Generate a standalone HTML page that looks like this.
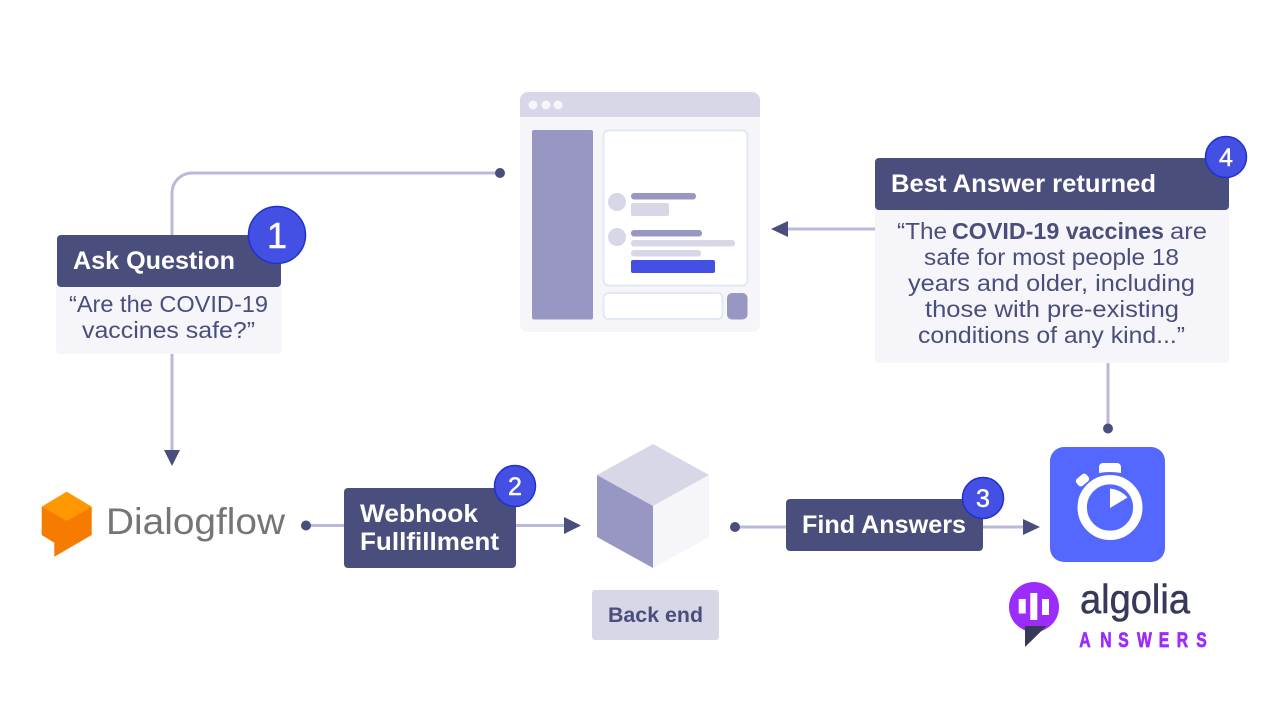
<!DOCTYPE html>
<html lang="en">
<head>
<meta charset="utf-8">
<title>Dialogflow and Algolia Answers flow</title>
<style>
html,body{margin:0;padding:0;background:#fff;width:1280px;height:720px;overflow:hidden}
svg{display:block}
text{font-family:"Liberation Sans",sans-serif}
.h{font-weight:700;fill:#fff;font-size:25px}
.q{fill:#4a4e7c;font-size:23px}
.n{fill:#fff;font-size:25px;text-anchor:middle;stroke:#fff;stroke-width:.5px}
</style>
</head>
<body>
<svg width="1280" height="720" viewBox="0 0 1280 720" xmlns="http://www.w3.org/2000/svg">
<rect width="1280" height="720" fill="#fff"/>

<!-- connectors -->
<g fill="none" stroke="#b9b9d9" stroke-width="3">
  <path d="M172 236V193a20 20 0 0 1 20-20H500"/>
  <path d="M172 354V452"/>
  <path d="M306 525.500H345"/>
  <path d="M516 525.500H566"/>
  <path d="M735 527H787"/>
  <path d="M983 527H1025"/>
  <path d="M786 229H875"/>
  <path d="M1108 363V428"/>
</g>
<g fill="#4a4e7c">
  <circle cx="500" cy="173" r="5"/>
  <circle cx="306" cy="525.500" r="5"/>
  <circle cx="735" cy="527" r="5"/>
  <circle cx="1108" cy="428.500" r="5"/>
  <path d="M164 450H180L172 466Z"/>
  <path d="M564 517L581 525.500L564 534Z"/>
  <path d="M1023 519L1040 527L1023 535Z"/>
  <path d="M788 221L771 229L788 237Z"/>
</g>

<!-- browser mock -->
<rect x="520" y="92" width="240" height="240" rx="8" fill="#f5f5fa"/>
<path d="M520 117V100a8 8 0 0 1 8-8H752a8 8 0 0 1 8 8V117Z" fill="#d8d7e7"/>
<g fill="#f5f5fa">
  <circle cx="533" cy="105" r="4.500"/>
  <circle cx="546" cy="105" r="4.500"/>
  <circle cx="558" cy="105" r="4.500"/>
</g>
<rect x="532" y="130" width="61" height="189.500" rx="2" fill="#9897c3"/>
<rect x="603.500" y="130.500" width="144" height="155" rx="5" fill="#fff" stroke="#e1e9f2" stroke-width="2"/>
<rect x="603.500" y="293" width="119" height="26" rx="5" fill="#fff" stroke="#e1e9f2" stroke-width="2"/>
<rect x="727" y="293" width="20.500" height="26.500" rx="5" fill="#9897c3"/>
<circle cx="617" cy="202" r="9" fill="#d8d7e7"/>
<circle cx="617" cy="237" r="9" fill="#d8d7e7"/>
<rect x="631" y="193" width="65" height="6.500" rx="3" fill="#9897c3"/>
<rect x="631" y="203" width="38" height="13" rx="2" fill="#d8d7e7"/>
<rect x="631" y="230" width="71" height="6.500" rx="3" fill="#9897c3"/>
<rect x="631" y="240" width="104" height="6.500" rx="3" fill="#d8d7e7"/>
<rect x="631" y="250" width="70" height="6.500" rx="3" fill="#d8d7e7"/>
<rect x="631" y="260" width="84" height="13" rx="2" fill="#4450e4"/>

<!-- ask question -->
<rect x="56" y="280" width="226" height="74" rx="4" fill="#f5f5fa"/>
<rect x="57" y="235" width="224" height="52" rx="4" fill="#4a4e7c"/>
<text class="h" x="73" y="269" textLength="162" lengthAdjust="spacingAndGlyphs">Ask Question</text>
<text class="q" x="69" y="312" textLength="199" lengthAdjust="spacingAndGlyphs">“Are the COVID-19</text>
<text class="q" x="82" y="338" textLength="173" lengthAdjust="spacingAndGlyphs">vaccines safe?”</text>
<circle cx="277" cy="235" r="28.500" fill="#4450e4" stroke="#2131cf" stroke-width="1.500"/>
<text class="n" x="277" y="248" style="font-size:36px;stroke-width:.5px">1</text>

<!-- dialogflow -->
<path d="M41.700 506.700L66.700 491.700L91.700 506.700V535L54.300 556.700V542.700L41.700 535Z" fill="#f57c00"/>
<path d="M41.700 506.700L66.700 491.700L91.700 506.700L66.700 521Z" fill="#ff9800"/>
<text x="106" y="534" fill="#757575" style="font-size:37px" textLength="179" lengthAdjust="spacingAndGlyphs">Dialogflow</text>

<!-- webhook -->
<rect x="344" y="488" width="172" height="80" rx="4" fill="#4a4e7c"/>
<text class="h" x="360" y="522" textLength="118" lengthAdjust="spacingAndGlyphs">Webhook</text>
<text class="h" x="360" y="550" textLength="139" lengthAdjust="spacingAndGlyphs">Fullfillment</text>
<circle cx="515" cy="486" r="20.500" fill="#4450e4" stroke="#2131cf" stroke-width="1.500"/>
<text class="n" x="515" y="495">2</text>

<!-- cube -->
<path d="M653 444L709 475L653 506L597 475Z" fill="#d8d7e7"/>
<path d="M597 475L653 506V568L597 537Z" fill="#9897c3"/>
<path d="M709 475L653 506V568L709 537Z" fill="#f5f5fa"/>
<rect x="592" y="590" width="127" height="50" rx="3" fill="#d8d7e7"/>
<text x="608" y="622" fill="#4a4e7c" font-weight="700" style="font-size:21px" textLength="95" lengthAdjust="spacingAndGlyphs">Back end</text>

<!-- find answers -->
<rect x="786" y="499" width="197" height="52" rx="4" fill="#4a4e7c"/>
<text class="h" x="802" y="533" textLength="164" lengthAdjust="spacingAndGlyphs">Find Answers</text>
<circle cx="983" cy="498" r="20.500" fill="#4450e4" stroke="#2131cf" stroke-width="1.500"/>
<text class="n" x="983" y="507">3</text>

<!-- algolia tile -->
<rect x="1050" y="447" width="115" height="115" rx="14" fill="#5468ff"/>
<circle cx="1110" cy="507.500" r="27.800" fill="none" stroke="#fff" stroke-width="9.400"/>
<path d="M1099 473V467a4 4 0 0 1 4-4H1117a4 4 0 0 1 4 4V473Q1110 471 1099 473Z" fill="#fff"/>
<rect x="1076" y="475.500" width="13" height="9" rx="3" fill="#fff" transform="rotate(-40 1082.500 480)"/>
<path d="M1110 488.500Q1121 490 1127.500 497.500L1110 508Z" fill="#fff"/>

<!-- algolia logo -->
<circle cx="1034" cy="607" r="25" fill="#9b2cfb"/>
<rect x="1018.700" y="599" width="7" height="14.500" fill="#fff"/>
<rect x="1030.300" y="593" width="7" height="27" fill="#fff"/>
<rect x="1042" y="599" width="7" height="16" fill="#fff"/>
<path d="M1025 626H1046.500L1025 647Z" fill="#36395a"/>
<text x="1080" y="613" fill="#36395a" stroke="#36395a" stroke-width=".5" style="font-size:41px" textLength="110" lengthAdjust="spacingAndGlyphs">algolia</text>
<g transform="scale(.75,1)"><text x="1439 1467 1491 1516 1545 1569 1595" y="647" fill="#9b2cfb" stroke="#9b2cfb" stroke-width=".7" font-weight="700" style="font-size:21px">ANSWERS</text></g>

<!-- best answer -->
<rect x="875" y="200" width="354" height="163" rx="4" fill="#f5f5fa"/>
<rect x="875" y="158" width="354" height="52" rx="4" fill="#4a4e7c"/>
<text class="h" x="891" y="192" textLength="265" lengthAdjust="spacingAndGlyphs">Best Answer returned</text>
<text class="q" x="897" y="239" textLength="50" lengthAdjust="spacingAndGlyphs">“The</text>
<text class="q" x="952" y="239" font-weight="700" textLength="212" lengthAdjust="spacingAndGlyphs">COVID-19 vaccines</text>
<text class="q" x="1170" y="239" textLength="37" lengthAdjust="spacingAndGlyphs">are</text>
<text class="q" x="924" y="265" textLength="255" lengthAdjust="spacingAndGlyphs">safe for most people 18</text>
<text class="q" x="908" y="291" textLength="287" lengthAdjust="spacingAndGlyphs">years and older, including</text>
<text class="q" x="925" y="317" textLength="254" lengthAdjust="spacingAndGlyphs">those with pre-existing</text>
<text class="q" x="918" y="343" textLength="267" lengthAdjust="spacingAndGlyphs">conditions of any kind...”</text>
<circle cx="1226" cy="157" r="20.500" fill="#4450e4" stroke="#2131cf" stroke-width="1.500"/>
<text class="n" x="1226" y="166">4</text>
</svg>
</body>
</html>
